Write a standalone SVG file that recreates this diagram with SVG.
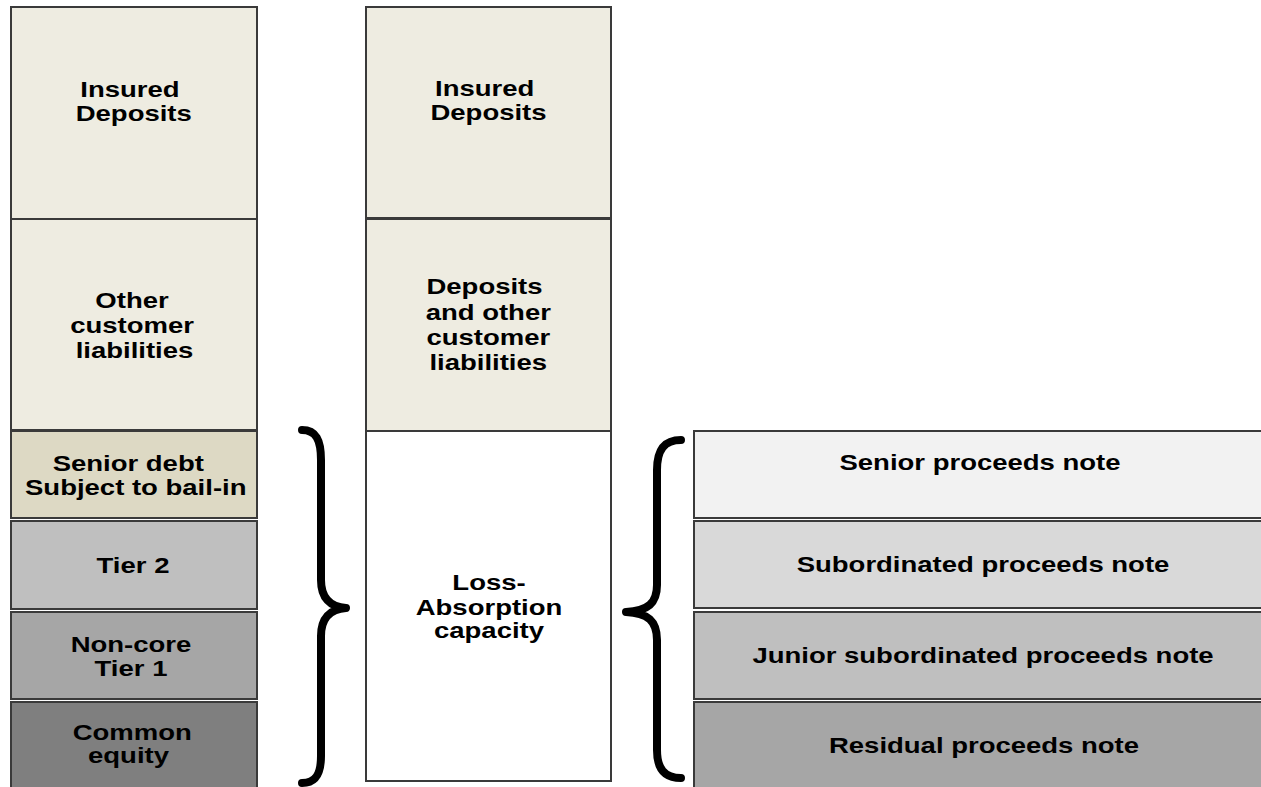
<svg xmlns="http://www.w3.org/2000/svg" width="1261" height="787" viewBox="0 0 1261 787">
  <style>
    .box { stroke: #3a3a3a; stroke-width: 2; }
    .lbl { font-family: "Liberation Sans", Arial, sans-serif; font-weight: bold; font-size: 22px; fill: #000; text-anchor: middle; }
    .brace { fill: none; stroke: #000; stroke-width: 8; stroke-linecap: round; stroke-linejoin: round; }
    .tan-light { fill: #EEECE1; }
    .tan { fill: #DDD9C4; }
    .g1 { fill: #F2F2F2; }
    .g2 { fill: #D9D9D9; }
    .g3 { fill: #BFBFBF; }
    .g4 { fill: #A6A6A6; }
    .g5 { fill: #7F7F7F; }
  </style>
  <rect width="1261" height="787" fill="#ffffff"/>

  <!-- Left column: bank balance sheet -->
  <g id="left-insured-deposits">
    <rect class="box tan-light" x="11" y="7" width="246" height="212"/>
    <text class="lbl" transform="translate(130,0) scale(1.25,1)"><tspan x="0" y="97">Insured</tspan><tspan x="3" y="121">Deposits</tspan></text>
  </g>
  <g id="left-other-customer-liabilities">
    <rect class="box tan-light" x="11" y="219" width="246" height="211"/>
    <text class="lbl" transform="translate(132,0) scale(1.25,1)"><tspan x="0" y="308">Other</tspan><tspan x="0" y="333">customer</tspan><tspan x="2" y="358">liabilities</tspan></text>
  </g>
  <g id="left-senior-debt">
    <rect class="box tan" x="11" y="431" width="246" height="87"/>
    <text class="lbl" transform="translate(132,0) scale(1.25,1)"><tspan x="-3" y="471">Senior debt</tspan><tspan x="3" y="495">Subject to bail-in</tspan></text>
  </g>
  <g id="left-tier2">
    <rect class="box g3" x="11" y="521" width="246" height="88"/>
    <text class="lbl" transform="translate(133,0) scale(1.25,1)" x="0" y="573">Tier 2</text>
  </g>
  <g id="left-noncore-tier1">
    <rect class="box g4" x="11" y="612" width="246" height="87"/>
    <text class="lbl" transform="translate(131,0) scale(1.25,1)"><tspan x="0" y="652">Non-core</tspan><tspan x="0" y="676">Tier 1</tspan></text>
  </g>
  <g id="left-common-equity">
    <rect class="box g5" x="11" y="702" width="246" height="90"/>
    <text class="lbl" transform="translate(131,0) scale(1.25,1)"><tspan x="1" y="740">Common</tspan><tspan x="-2" y="763">equity</tspan></text>
  </g>

  <!-- Middle column: resolution view -->
  <g id="mid-insured-deposits">
    <rect class="box tan-light" x="366" y="7" width="245" height="211"/>
    <text class="lbl" transform="translate(486,0) scale(1.25,1)"><tspan x="-1" y="96">Insured</tspan><tspan x="2" y="120">Deposits</tspan></text>
  </g>
  <g id="mid-deposits-other">
    <rect class="box tan-light" x="366" y="219" width="245" height="212"/>
    <text class="lbl" transform="translate(487,0) scale(1.25,1)"><tspan x="-2" y="294">Deposits</tspan><tspan x="1" y="320">and other</tspan><tspan x="1" y="345">customer</tspan><tspan x="1" y="370">liabilities</tspan></text>
  </g>
  <g id="mid-loss-absorption">
    <rect class="box" fill="#ffffff" x="366" y="431" width="245" height="350"/>
    <text class="lbl" transform="translate(489,0) scale(1.25,1)"><tspan x="0" y="590">Loss-</tspan><tspan x="0" y="615">Absorption</tspan><tspan x="0" y="638">capacity</tspan></text>
  </g>

  <!-- Right column: proceeds notes -->
  <g id="senior-proceeds-note">
    <rect class="box g1" x="694" y="431" width="580" height="87"/>
    <text class="lbl" transform="translate(980,0) scale(1.25,1)" x="0" y="470">Senior proceeds note</text>
  </g>
  <g id="subordinated-proceeds-note">
    <rect class="box g2" x="694" y="521" width="580" height="87"/>
    <text class="lbl" transform="translate(983,0) scale(1.25,1)" x="0" y="572">Subordinated proceeds note</text>
  </g>
  <g id="junior-subordinated-proceeds-note">
    <rect class="box g3" x="694" y="612" width="580" height="87"/>
    <text class="lbl" transform="translate(983,0) scale(1.25,1)" x="0" y="663">Junior subordinated proceeds note</text>
  </g>
  <g id="residual-proceeds-note">
    <rect class="box g4" x="694" y="702" width="580" height="90"/>
    <text class="lbl" transform="translate(984,0) scale(1.25,1)" x="0" y="753">Residual proceeds note</text>
  </g>

  <!-- Braces grouping the loss-absorbing layers -->
  <g id="connectors">
    <path class="brace" d="M302,430 C316,430 321,440 321,460 L321,580 C321,598 330,607 346,608 C330,609 321,618 321,636 L321,756 C321,774 316,783 302,783"/>
    <path class="brace" d="M681,440 C664,440 657,450 657,470 L657,585 C657,603 648,611 626,612 C648,613 657,621 657,640 L657,750 C657,768 664,778 681,778"/>
  </g>
</svg>
